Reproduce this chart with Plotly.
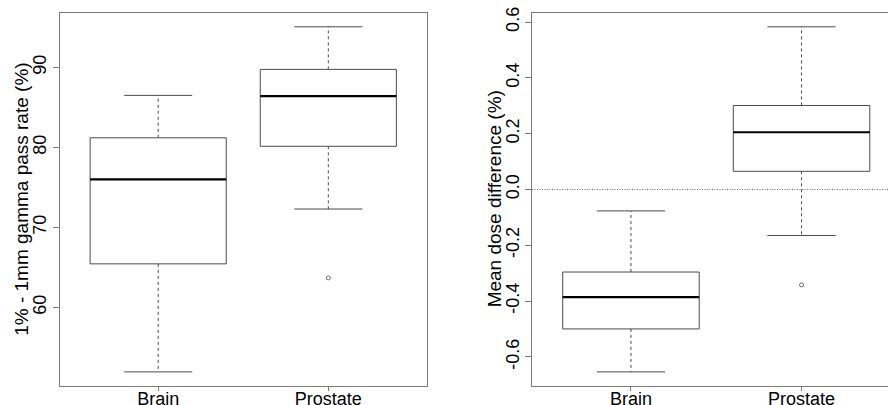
import plotly.graph_objects as go

# ---- data ----
categories = ["Brain", "Prostate"]

gamma_lower = [51.95, 72.3]
gamma_q1 = [65.45, 80.14]
gamma_median = [76.0, 86.4]
gamma_q3 = [81.2, 89.75]
gamma_upper = [86.5, 95.07]
gamma_outliers = [[], [63.7]]

dose_lower = [-0.654, -0.165]
dose_q1 = [-0.5, 0.065]
dose_median = [-0.386, 0.205]
dose_q3 = [-0.296, 0.301]
dose_upper = [-0.077, 0.583]
dose_outliers = [[], [-0.342]]

gamma_ticks = [60, 70, 80, 90]
gamma_ticktext = ["60", "70", "80", "90"]
dose_ticks = [-0.6, -0.4, -0.2, 0.0, 0.2, 0.4, 0.6]
dose_ticktext = ["-0.6", "-0.4", "-0.2", "0.0", "0.2", "0.4", "0.6"]

gamma_title = "1% - 1mm gamma pass rate (%)"
dose_title = "Mean dose difference (%)"

# ---- styling ----
W, H = 888, 405
FONT = "Liberation Sans, Arial, sans-serif"
BOXC = "#4a4a4a"
FRAMEC = "#7a7a7a"
HALF_BOX = 0.4
HALF_CAP = 0.2

fig = go.Figure()


def add_boxes(xa, ya, lower, q1, med, q3, upper, outliers):
    for i, _ in enumerate(categories):
        c = i + 1
        # box
        fig.add_trace(go.Scatter(
            x=[c - HALF_BOX, c + HALF_BOX, c + HALF_BOX, c - HALF_BOX, c - HALF_BOX],
            y=[q1[i], q1[i], q3[i], q3[i], q1[i]],
            mode="lines", line=dict(color=BOXC, width=1),
            xaxis=xa, yaxis=ya, showlegend=False, hoverinfo="skip"))
        # whiskers (dashed)
        for a, b in ((q3[i], upper[i]), (q1[i], lower[i])):
            fig.add_trace(go.Scatter(
                x=[c, c], y=[a, b], mode="lines",
                line=dict(color=BOXC, width=1, dash="3px,3px"),
                xaxis=xa, yaxis=ya, showlegend=False, hoverinfo="skip"))
        # caps
        for v in (upper[i], lower[i]):
            fig.add_trace(go.Scatter(
                x=[c - HALF_CAP, c + HALF_CAP], y=[v, v], mode="lines",
                line=dict(color=BOXC, width=1),
                xaxis=xa, yaxis=ya, showlegend=False, hoverinfo="skip"))
        # median
        fig.add_trace(go.Scatter(
            x=[c - HALF_BOX, c + HALF_BOX], y=[med[i], med[i]], mode="lines",
            line=dict(color="black", width=2.2),
            xaxis=xa, yaxis=ya, showlegend=False, hoverinfo="skip"))
        # outliers
        if outliers[i]:
            fig.add_trace(go.Scatter(
                x=[c] * len(outliers[i]), y=outliers[i], mode="markers",
                marker=dict(symbol="circle-open", size=4, color="#666666",
                            line=dict(width=1)),
                xaxis=xa, yaxis=ya, showlegend=False, hoverinfo="skip"))


add_boxes("x", "y", gamma_lower, gamma_q1, gamma_median, gamma_q3,
          gamma_upper, gamma_outliers)
add_boxes("x2", "y2", dose_lower, dose_q1, dose_median, dose_q3,
          dose_upper, dose_outliers)

# zero reference line on the right panel
fig.add_shape(type="line", xref="x2 domain", yref="y2", x0=0, x1=1, y0=0, y1=0,
              line=dict(color="#666666", width=1, dash="1px,1.5px"))


def r_range(vals):
    lo, hi = min(vals), max(vals)
    pad = 0.04 * (hi - lo)
    return [lo - pad, hi + pad]


g_all = gamma_lower + gamma_upper + sum(gamma_outliers, [])
d_all = dose_lower + dose_upper + sum(dose_outliers, [])

ydom = [(H - 385.7) / H, (H - 13) / H]
xdom1 = [59.5 / W, 427 / W]
xdom2 = [532 / W, 1.0]
ppu2 = 170.6
x2_upper = 0.42 + (W - 532) / ppu2

tickfont = dict(family=FONT, size=18, color="black")
titlefont = dict(family=FONT, size=19, color="black")

common_x = dict(tickmode="array", tickvals=[1, 2], ticktext=categories,
                showline=True, linecolor=FRAMEC, linewidth=1, ticks="outside",
                ticklen=4, tickcolor=FRAMEC, showgrid=False, zeroline=False,
                tickfont=tickfont, fixedrange=True, ticklabelstandoff=-7)
common_y = dict(showline=True, linecolor=FRAMEC, linewidth=1, ticks="outside",
                ticklen=6, tickcolor=FRAMEC, showgrid=False, zeroline=False,
                tickfont=tickfont, tickangle=-90, tickmode="array",
                fixedrange=True, ticklabelstandoff=-1)

ymid = (ydom[0] + ydom[1]) / 2

fig.update_layout(
    width=W, height=H,
    margin=dict(l=0, r=0, t=0, b=0, autoexpand=False),
    paper_bgcolor="white", plot_bgcolor="white",
    font=dict(family=FONT, color="black"),
    xaxis=dict(**common_x, domain=xdom1, range=[0.42, 2.58], anchor="y",
               mirror=True),
    yaxis=dict(**common_y, domain=ydom, range=r_range(g_all), anchor="x",
               mirror=True, tickvals=gamma_ticks, ticktext=gamma_ticktext),
    xaxis2=dict(**common_x, domain=xdom2, range=[0.42, x2_upper], anchor="y2",
                mirror=True),
    yaxis2=dict(**common_y, domain=ydom, range=r_range(d_all), anchor="x2",
                mirror=False, tickvals=dose_ticks, ticktext=dose_ticktext),
    annotations=[
        dict(text=gamma_title, xref="paper", yref="paper", x=21.5 / W, y=ymid,
             textangle=-90, showarrow=False, font=titlefont,
             xanchor="center", yanchor="middle"),
        dict(text=dose_title, xref="paper", yref="paper", x=494 / W, y=ymid,
             textangle=-90, showarrow=False, font=titlefont,
             xanchor="center", yanchor="middle"),
    ],
)

fig.write_html("out.html",
               config={"displayModeBar": False},
               post_script="document.body.style.margin='0';"
                           "document.body.style.overflow='hidden';")
